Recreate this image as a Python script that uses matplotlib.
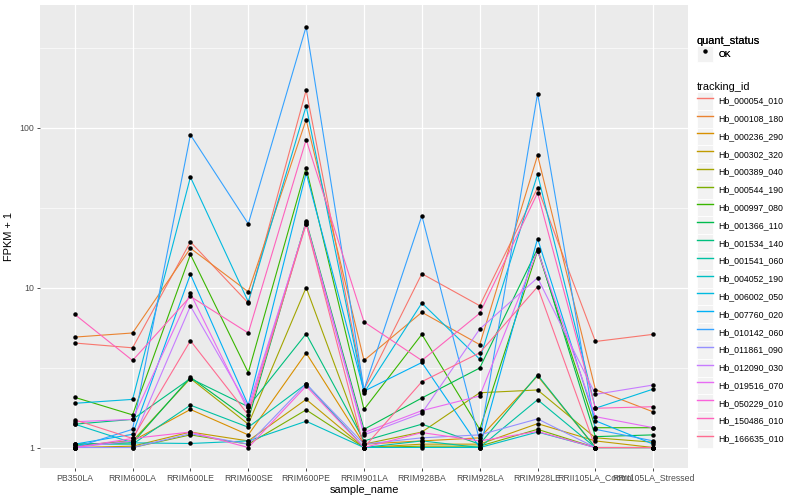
import matplotlib
matplotlib.use('Agg')
import matplotlib.pyplot as plt
from matplotlib.lines import Line2D
from matplotlib.patches import Rectangle
from matplotlib.legend_handler import HandlerLine2D
from matplotlib.ticker import FixedLocator, NullFormatter

plt.rcParams['font.family'] = ['Liberation Sans', 'DejaVu Sans']

sample_name = ['PB350LA', 'RRIM600LA', 'RRIM600LE', 'RRIM600SE', 'RRIM600PE',
               'RRIM901LA', 'RRIM928BA', 'RRIM928LA', 'RRIM928LE',
               'RRII105LA_Control', 'RRII105LA_Stressed']

tracking_id = ['Hb_000054_010', 'Hb_000108_180', 'Hb_000236_290', 'Hb_000302_320',
               'Hb_000389_040', 'Hb_000544_190', 'Hb_000997_080', 'Hb_001366_110',
               'Hb_001534_140', 'Hb_001541_060', 'Hb_004052_190', 'Hb_006002_050',
               'Hb_007760_020', 'Hb_010142_060', 'Hb_011861_090', 'Hb_012090_030',
               'Hb_019516_070', 'Hb_050229_010', 'Hb_150486_010', 'Hb_166635_010']

# colores por defecto de ggplot (hue_pal, 20 niveles)
colores = ['#F8766D', '#EA8331', '#D89000', '#C09B00', '#A3A500', '#7CAE00',
           '#39B600', '#00BB4E', '#00BF7D', '#00C1A3', '#00BFC4', '#00BAE0',
           '#00B0F6', '#35A2FF', '#9590FF', '#C77CFF', '#E76BF3', '#FA62DB',
           '#FF62BC', '#FF6C91']

# FPKM + 1 por muestra
hb_000054_010 = [4.5, 4.2, 19.3, 8.0, 171, 2.3, 12.2, 7.7, 42, 4.6, 5.1]
hb_000108_180 = [4.9, 5.2, 17.6, 9.4, 112, 3.5, 7.0, 4.4, 67, 2.3, 1.67]
hb_000236_290 = [1.02, 1.1, 1.73, 1.2, 3.9, 1.05, 1.1, 1.15, 2.8, 1.0, 1.0]
hb_000302_320 = [1.0, 1.02, 1.25, 1.1, 2.0, 1.0, 1.05, 1.05, 1.41, 1.1, 1.0]
hb_000389_040 = [1.03, 1.1, 2.7, 1.4, 10, 1.05, 1.25, 2.2, 2.29, 1.15, 1.08]
hb_000544_190 = [1.0, 1.0, 1.2, 1.05, 1.72, 1.0, 1.02, 1.02, 1.3, 1.0, 1.0]
hb_000997_080 = [2.06, 1.6, 16.1, 2.94, 56, 1.73, 5.1, 1.3, 17, 1.33, 1.33]
hb_001366_110 = [1.05, 1.07, 2.75, 1.5, 26, 1.3, 2.04, 3.14, 17.5, 1.17, 1.2]
hb_001534_140 = [1.4, 1.5, 2.7, 1.8, 5.14, 1.1, 1.4, 1.05, 2.84, 1.0, 1.0]
hb_001541_060 = [1.05, 1.05, 1.84, 1.34, 2.5, 1.0, 1.1, 1.0, 1.99, 1.0, 1.0]
hb_004052_190 = [1.4, 1.07, 1.06, 1.1, 1.46, 1.0, 1.0, 1.0, 1.25, 1.0, 1.0]
hb_006002_050 = [1.89, 2.0, 49, 8.15, 136, 2.2, 8.0, 3.57, 51, 1.76, 2.32]
hb_007760_020 = [1.05, 1.21, 12.1, 1.84, 52, 2.25, 3.4, 1.0, 20.2, 1.47, 1.05]
hb_010142_060 = [1.0, 1.3, 90, 25, 427, 2.3, 28.1, 1.1, 163, 1.3, 1.1]
hb_011861_090 = [1.0, 1.0, 1.22, 1.05, 2.5, 1.05, 1.15, 1.2, 1.51, 1.0, 1.0]
hb_012090_030 = [1.0, 1.1, 7.66, 1.8, 25, 1.2, 1.64, 5.5, 11.5, 2.15, 2.46]
hb_019516_070 = [1.45, 1.5, 9.2, 1.7, 25.5, 1.24, 1.7, 2.1, 17, 1.56, 1.33]
hb_050229_010 = [1.0, 1.14, 1.25, 1.0, 2.42, 1.0, 1.24, 1.1, 1.26, 1.0, 1.0]
hb_150486_010 = [6.8, 3.5, 8.8, 5.2, 84, 6.1, 3.5, 6.9, 39, 1.76, 1.8]
hb_166635_010 = [1.49, 1.14, 4.65, 1.6, 25, 1.0, 2.58, 3.91, 10.1, 1.0, 1.0]

series = [hb_000054_010, hb_000108_180, hb_000236_290, hb_000302_320,
          hb_000389_040, hb_000544_190, hb_000997_080, hb_001366_110,
          hb_001534_140, hb_001541_060, hb_004052_190, hb_006002_050,
          hb_007760_020, hb_010142_060, hb_011861_090, hb_012090_030,
          hb_019516_070, hb_050229_010, hb_150486_010, hb_166635_010]


class HandlerKey(HandlerLine2D):
    # caja gris detras de cada clave, como en ggplot
    def create_artists(self, legend, orig_handle, xdescent, ydescent,
                       width, height, fontsize, trans):
        caja = Rectangle((-xdescent, -ydescent), width, height,
                         facecolor='#F2F2F2', edgecolor='white', lw=0.6,
                         transform=trans)
        arts = super().create_artists(legend, orig_handle, xdescent, ydescent,
                                      width, height, fontsize, trans)
        return [caja] + list(arts)


fig = plt.figure(figsize=(8, 5), dpi=100)
ax = fig.add_axes([0.05, 0.064, 0.81, 0.926])
ax.set_facecolor('#EBEBEB')

x = list(range(len(sample_name)))
for vals, c in zip(series, colores):
    ax.plot(x, vals, color=c, lw=0.8, zorder=2)
for vals in series:
    ax.plot(x, vals, linestyle='none', marker='o', markersize=2.2,
            color='black', zorder=3)

ax.set_yscale('log')
ax.set_ylim(0.745, 583)
ax.set_xlim(-0.6, 10.6)
ax.set_xticks(x)
ax.set_xticklabels(sample_name)
ax.yaxis.set_major_locator(FixedLocator([1, 10, 100]))
ax.set_yticklabels(['1', '10', '100'])
ax.yaxis.set_minor_locator(FixedLocator([10 ** 0.5, 10 ** 1.5, 10 ** 2.5]))
ax.yaxis.set_minor_formatter(NullFormatter())

ax.grid(which='major', color='white', lw=0.9)
ax.grid(which='minor', axis='y', color='white', lw=0.45)
ax.set_axisbelow(True)
for s in ax.spines.values():
    s.set_visible(False)
ax.tick_params(which='major', length=2.5, width=0.6, color='#333333',
               labelsize=6.3, labelcolor='#4D4D4D', pad=1.5)
ax.tick_params(which='minor', length=0)

ax.set_xlabel('sample_name', fontsize=7.9, labelpad=1.5)
ax.set_ylabel('FPKM + 1', fontsize=7.9, labelpad=4)

estado = [Line2D([], [], linestyle='none', marker='o', markersize=2.2,
                 color='black')]
leg1 = fig.legend(estado, ['OK'], title='quant_status', loc='upper left',
                  bbox_to_anchor=(0.8665, 0.936), frameon=False, fontsize=6.3,
                  title_fontsize=7.9, handlelength=1.9, handleheight=2.6,
                  handletextpad=0.6, labelspacing=0, borderaxespad=0,
                  alignment='left', handler_map={Line2D: HandlerKey(numpoints=1)})
fig.add_artist(leg1)

lineas = [Line2D([], [], color=c, lw=1.0) for c in colores]
fig.legend(lineas, tracking_id, title='tracking_id', loc='upper left',
           bbox_to_anchor=(0.8665, 0.843), frameon=False, fontsize=6.3,
           title_fontsize=7.9, handlelength=1.9, handleheight=2.75,
           handletextpad=0.6, labelspacing=0, borderaxespad=0,
           alignment='left', handler_map={Line2D: HandlerKey()})

fig.savefig('out.png', dpi=100)
